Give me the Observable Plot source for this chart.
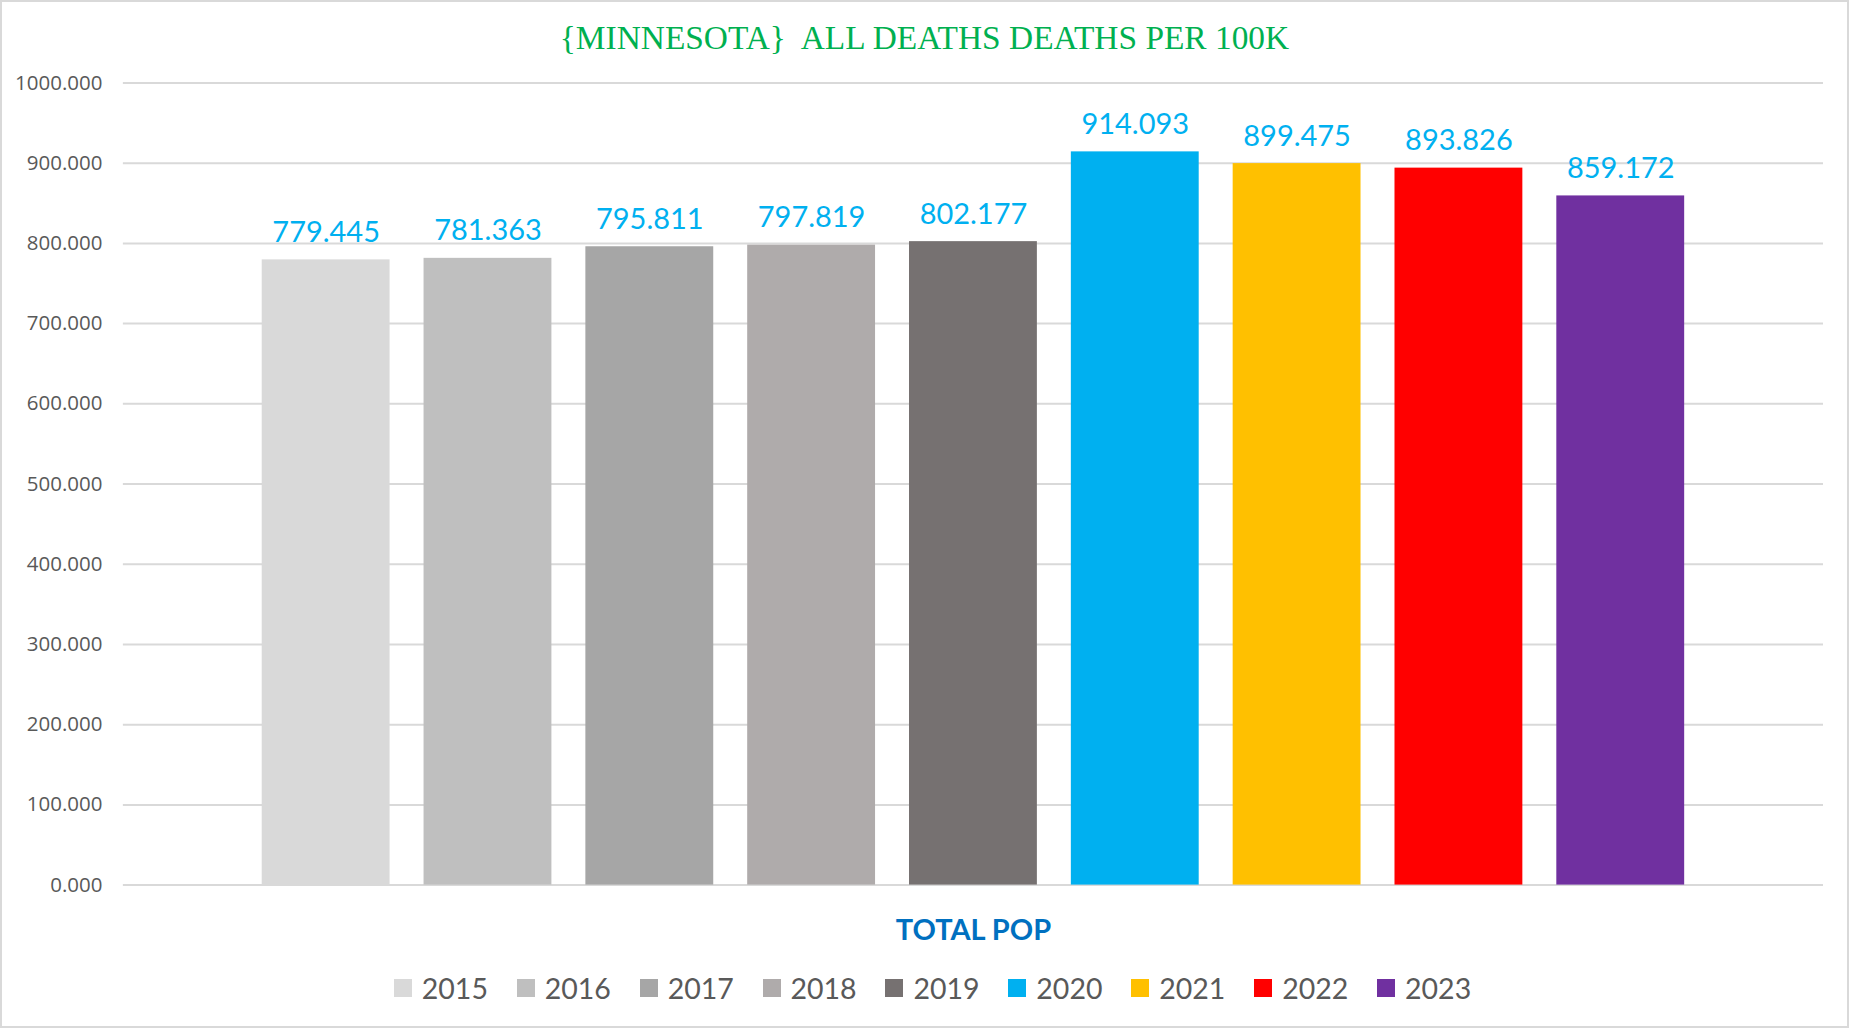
<!DOCTYPE html>
<html>
<head>
<meta charset="utf-8">
<script src="https://cdn.jsdelivr.net/npm/d3@7"></script>
<script src="https://cdn.jsdelivr.net/npm/@observablehq/plot@0.6"></script>
<style>
  html, body { margin: 0; padding: 0; background: #fff; }
  #chart { position: relative; width: 1849px; height: 1028px; box-sizing: border-box; border: 2px solid #d9d9d9; background: #fff; overflow: hidden; }
  #title { position: absolute; left: -2px; top: 15.5px; width: 1849px; text-align: center; font-family: "Liberation Serif", "Times New Roman", serif; font-size: 33.4px; line-height: 40px; color: #00b050; white-space: pre; }
  #plot { position: absolute; left: -2px; top: 46px; }
  #legend { position: absolute; left: 6px; top: 968px; width: 1849px; display: flex; justify-content: center; font-family: Lato, sans-serif; font-size: 28.5px; color: #595959; line-height: 36px; }
  .item { display: flex; align-items: center; margin: 0 14.4px; }
  .sw { width: 18px; height: 18px; margin-right: 10px; }
</style>
</head>
<body>
<div id="chart">
  <div id="title"></div>
  <div id="plot"></div>
  <div id="legend"></div>
</div>
<script>
const titleText = "{MINNESOTA}  ALL DEATHS DEATHS PER 100K";
const xLabel = "TOTAL POP";
const years = ["2015", "2016", "2017", "2018", "2019", "2020", "2021", "2022", "2023"];
const values = [779.445, 781.363, 795.811, 797.819, 802.177, 914.093, 899.475, 893.826, 859.172];
const colors = ["#d9d9d9", "#bfbfbf", "#a6a6a6", "#afabab", "#767171", "#00b0f0", "#ffc000", "#ff0000", "#7030a0"];
const yTicks = [0, 100, 200, 300, 400, 500, 600, 700, 800, 900, 1000];

const data = years.map((year, i) => ({year, value: values[i]}));
const fmt = d3.format(".3f");

document.getElementById("title").textContent = titleText;

const chart = Plot.plot({
  width: 1849,
  height: 920,
  marginTop: 34.5,
  marginBottom: 82.5,
  marginLeft: 123,
  marginRight: 24,
  style: {fontFamily: "'Open Sans', sans-serif", color: "#595959", background: "transparent"},
  x: {domain: years, paddingInner: 0.21, paddingOuter: 0.84, axis: null},
  y: {domain: [0, 1000], axis: null},
  color: {domain: years, range: colors},
  marks: [
    Plot.gridY(yTicks, {stroke: "#d9d9d9", strokeOpacity: 1, strokeWidth: 2}),
    Plot.axisY(yTicks, {tickSize: 0, tickPadding: 21, tickFormat: fmt, fontSize: 20.5, fill: "#595959", label: null}),
    Plot.barY(data, {x: "year", y: "value", fill: "year"}),
    Plot.text(data, {x: "year", y: "value", text: d => fmt(d.value), lineAnchor: "bottom", dy: -18, fill: "#00b0f0", fontSize: 29, fontFamily: "Lato, sans-serif"}),
    Plot.text([xLabel], {text: d => d, frameAnchor: "bottom", lineAnchor: "middle", dy: 45.5, fill: "#0070c0", fontSize: 29, fontWeight: "bold", fontFamily: "Lato, sans-serif"})
  ]
});
document.getElementById("plot").appendChild(chart);

const legend = document.getElementById("legend");
years.forEach((y, i) => {
  const item = document.createElement("div");
  item.className = "item";
  const sw = document.createElement("div");
  sw.className = "sw";
  sw.style.background = colors[i];
  const label = document.createElement("span");
  label.textContent = y;
  item.appendChild(sw);
  item.appendChild(label);
  legend.appendChild(item);
});
</script>
</body>
</html>
